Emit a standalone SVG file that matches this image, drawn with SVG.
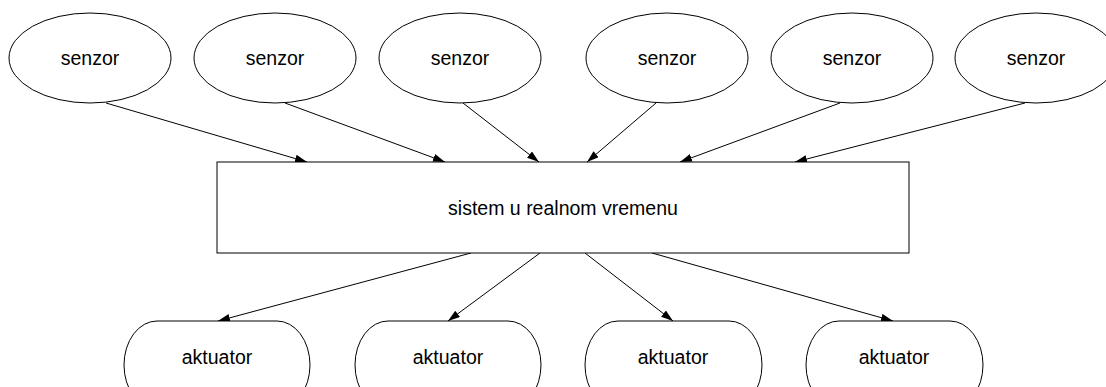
<svg xmlns="http://www.w3.org/2000/svg" width="1106" height="387" viewBox="0 0 1106 387">
<defs>
<style>
.n{fill:#fff;stroke:#000;stroke-width:1}
.t{font-family:"Liberation Sans",Arial,sans-serif;font-size:19.5px;fill:#000;text-anchor:middle}
.c{stroke:#000;stroke-width:1;fill:none;marker-end:url(#ah)}
</style>
<marker id="ah" markerUnits="userSpaceOnUse" markerWidth="14" markerHeight="10" refX="12" refY="4" orient="auto">
<path d="M0,0 L12,4 L0,8 Z" fill="#000"/>
</marker>
</defs>
<rect width="1106" height="387" fill="#fff"/>
<g id="connectors">
<line class="c" x1="106" y1="103" x2="307" y2="162"/>
<line class="c" x1="285" y1="103" x2="445" y2="162"/>
<line class="c" x1="463" y1="103" x2="539" y2="162"/>
<line class="c" x1="656" y1="103" x2="587" y2="162"/>
<line class="c" x1="840" y1="103" x2="680" y2="162"/>
<line class="c" x1="1025" y1="103" x2="795" y2="162"/>
<line class="c" x1="471" y1="253" x2="218" y2="321"/>
<line class="c" x1="540" y1="253" x2="448" y2="321"/>
<line class="c" x1="585" y1="253" x2="673" y2="321"/>
<line class="c" x1="652" y1="253" x2="893" y2="321"/>
</g>
<g id="s1"><ellipse class="n" cx="90" cy="58" rx="81" ry="45"/><text class="t" x="90" y="65">senzor</text></g>
<g id="s2"><ellipse class="n" cx="275" cy="58" rx="81" ry="45"/><text class="t" x="275" y="65">senzor</text></g>
<g id="s3"><ellipse class="n" cx="460" cy="58" rx="81" ry="45"/><text class="t" x="460" y="65">senzor</text></g>
<g id="s4"><ellipse class="n" cx="667" cy="58" rx="81" ry="45"/><text class="t" x="667" y="65">senzor</text></g>
<g id="s5"><ellipse class="n" cx="852" cy="58" rx="81" ry="45"/><text class="t" x="852" y="65">senzor</text></g>
<g id="s6"><ellipse class="n" cx="1036" cy="58" rx="81" ry="45"/><text class="t" x="1036" y="65">senzor</text></g>
<g id="rt"><rect class="n" x="217" y="162" width="692" height="91"/><text class="t" x="563" y="215">sistem u realnom vremenu</text></g>
<g id="a1"><rect class="n" x="124" y="321" width="186" height="88" rx="33" ry="44"/><text class="t" x="217" y="364">aktuator</text></g>
<g id="a2"><rect class="n" x="355" y="321" width="186" height="88" rx="33" ry="44"/><text class="t" x="448" y="364">aktuator</text></g>
<g id="a3"><rect class="n" x="585" y="321" width="177" height="88" rx="33" ry="44"/><text class="t" x="673" y="364">aktuator</text></g>
<g id="a4"><rect class="n" x="806" y="321" width="177" height="88" rx="33" ry="44"/><text class="t" x="894" y="364">aktuator</text></g>
</svg>
